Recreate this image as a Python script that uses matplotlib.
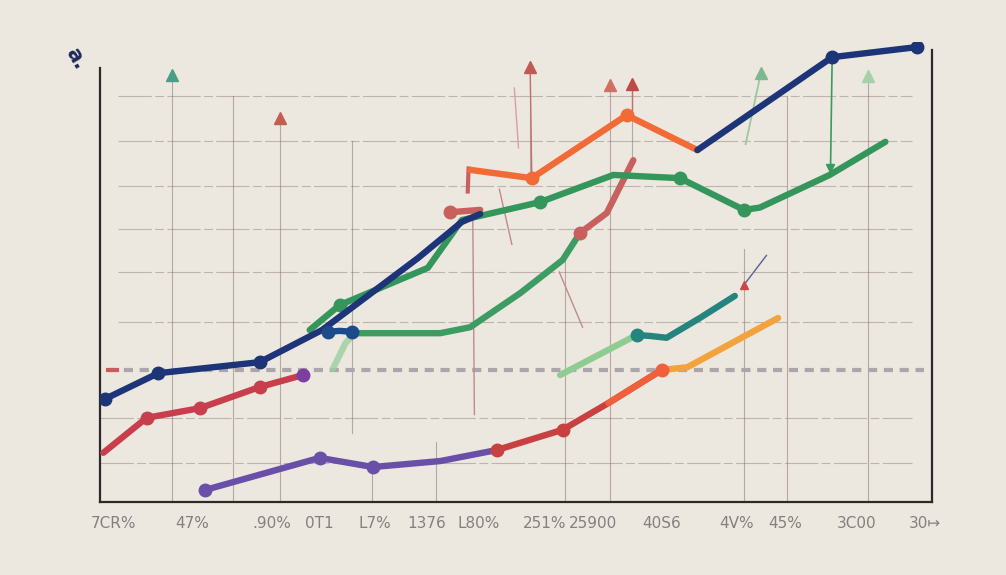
import matplotlib
matplotlib.use("Agg")
import matplotlib.pyplot as plt

BG = "#ECE8DF"

# ---------------- data (x: 0-100 across axis, y: 0-100 up the axis) ----------------
navy_a_x = [0.6, 7.0, 19.2, 26.7, 38.2, 43.5, 45.7]
navy_a_y = [22.4, 28.0, 30.4, 37.4, 53.0, 60.9, 62.6]
navy_short_x = [27.4, 28.8, 30.3]
navy_short_y = [37.0, 37.2, 37.0]
navy_b_x = [71.8, 88.0, 98.2]
navy_b_y = [76.5, 96.7, 98.9]

orange_top_x = [44.5, 51.9, 63.3, 71.8]
orange_top_y = [72.2, 70.4, 84.1, 76.5]

green_main_x = [25.2, 28.8, 39.4, 43.5, 52.9, 61.7, 69.7, 77.4, 79.3, 87.7, 94.4]
green_main_y = [37.4, 42.8, 50.9, 61.3, 65.2, 71.1, 70.4, 63.5, 64.0, 71.1, 78.3]

green2_x = [30.6, 40.9, 44.5, 50.5, 55.6, 57.7]
green2_y = [36.7, 36.7, 38.0, 45.4, 52.6, 58.5]

lightgreen_a_x = [28.0, 29.5, 30.6]
lightgreen_a_y = [29.0, 34.5, 36.7]

pink_x = [57.7, 60.9, 64.1]
pink_y = [58.5, 62.8, 74.3]
pink_short_x = [42.1, 45.7]
pink_short_y = [63.0, 63.5]

red_left_x = [0.4, 5.6, 12.0, 19.2, 24.4]
red_left_y = [10.7, 18.3, 20.4, 25.0, 27.6]

purple_x = [12.6, 26.4, 32.8, 40.9, 47.7]
purple_y = [2.6, 9.6, 7.6, 8.9, 11.3]

red_bottom_x = [47.7, 55.6, 61.1, 67.5]
red_bottom_y = [11.3, 15.7, 21.5, 28.7]

yellow_x = [67.5, 70.6, 76.6, 81.5]
yellow_y = [28.7, 29.3, 35.2, 40.0]

lightgreen_b_x = [55.3, 64.5]
lightgreen_b_y = [27.6, 36.3]
teal_x = [64.5, 66.1, 68.1, 72.1, 76.3]
teal_y = [36.3, 36.1, 35.7, 40.0, 44.8]

grid_y = [88.3, 78.5, 68.7, 59.3, 50.0, 39.1, 18.3, 8.5]
grid_y_start = [2.2, 2.2, 2.2, 2.2, 2.2, 2.2, 0.0, 0.0]
grid_y_end = [97.6, 97.6, 97.6, 97.6, 97.6, 97.6, 97.6, 97.6]

grid_x = [8.7, 16.0, 21.6, 30.3, 32.7, 40.4, 51.7, 55.9, 61.3, 63.9, 77.4, 82.6, 92.3]
grid_x_low = [0.0, 0.0, 0.0, 15.0, 0.0, 0.0, 72.0, 0.0, 0.0, 74.0, 0.0, 0.0, 0.0]
grid_x_high = [92.8, 88.3, 83.5, 78.5, 9.0, 13.0, 94.5, 54.0, 91.0, 91.0, 55.0, 88.3, 92.5]

ref_level = 28.7

arrow_x = [8.7, 21.6, 51.7, 61.3, 63.9, 79.4, 92.3]
arrow_y = [92.8, 83.5, 94.5, 90.7, 90.9, 93.3, 92.5]
arrow_c = ["#4a9e88", "#c06050", "#c05a55", "#d07060", "#c04848", "#7cb890", "#a8d0a8"]

tick_pos = [1.6, 11.1, 20.7, 26.4, 33.0, 39.3, 45.5, 53.5, 59.2, 67.5, 76.5, 82.3, 91.0, 99.2]
tick_labels = ["7CR%", "47%", ".90%", "0T1", "L7%", "1376", "L80%", "251%",
               "25900", "40S6", "4V%", "45%", "3C00", "30↦"]

# ---------------- figure ----------------
fig = plt.figure(figsize=(10.06, 5.75), dpi=100, facecolor=BG)
ax = fig.add_axes([100 / 1006, 73 / 575, 832 / 1006, 460 / 575])
ax.set_facecolor(BG)
ax.set_xlim(0, 100)
ax.set_ylim(0, 100)

# grid
for y, x0, x1 in zip(grid_y, grid_y_start, grid_y_end):
    ax.plot([x0, x1], [y, y], color="#8a7470", lw=0.8, alpha=0.45,
            ls=(0, (30, 3, 8, 3)), zorder=1)
for x, y0, y1 in zip(grid_x, grid_x_low, grid_x_high):
    ax.plot([x, x], [y0, y1], color="#8a6662", lw=0.8, alpha=0.5, zorder=1)

# reference dashed line
ax.plot([1.0, 99.0], [ref_level, ref_level], color="#aca6aa", lw=3.0,
        ls=(0, (2.2, 1.6)), zorder=2)
ax.plot([1.0, 2.0], [ref_level, ref_level], color="#c85a60", lw=3.0, zorder=2)

# decorative arrows / thin lines
ax.plot([88.0, 87.8], [96.7, 72.0], color="#3a9a5e", lw=1.2, zorder=3)
ax.plot([87.8], [72.5], marker="v", color="#3a9a5e", ms=6, zorder=3)
ax.plot([77.6, 79.4], [77.8, 93.0], color="#9cc8a0", lw=1.3, zorder=3)
ax.plot([51.7, 51.9], [94.5, 70.4], color="#c07070", lw=1.0, zorder=3)
ax.plot([63.9, 63.9], [90.9, 84.0], color="#c07070", lw=1.0, zorder=3)
ax.plot([49.8, 50.3], [90.0, 77.0], color="#d8a0a0", lw=1.0, zorder=3)
ax.plot([44.3, 44.2], [72.5, 67.5], color="#c86060", lw=3.0, zorder=3)
ax.plot([77.4, 80.1], [47.2, 53.6], color="#5a6090", lw=1.0, zorder=3)
ax.plot([77.4], [47.2], marker="^", color="#c84848", ms=6, zorder=3)
ax.plot([48.0, 49.5], [68.0, 56.0], color="#c08a8a", lw=1.0, zorder=3)
ax.plot([55.2, 58.0], [50.0, 38.0], color="#c08a8a", lw=1.0, zorder=3)
ax.plot([44.8, 45.0], [63.0, 19.0], color="#c08a8a", lw=1.0, zorder=3)
for x, y, c in zip(arrow_x, arrow_y, arrow_c):
    ax.plot([x], [y], marker="^", color=c, ms=8, zorder=4)

LW = 4.6
MS = 9

def series(xs, ys, color, marks=(), lw=LW, alpha=1.0, z=5):
    ax.plot(xs, ys, color=color, lw=lw, solid_capstyle="round",
            solid_joinstyle="round", alpha=alpha, zorder=z)
    if marks:
        ax.plot([xs[i] for i in marks], [ys[i] for i in marks], "o",
                color=color, ms=MS, alpha=alpha, zorder=z + 0.1)

series(lightgreen_a_x, lightgreen_a_y, "#9cd0a0", alpha=0.8, z=4)
series(lightgreen_b_x, lightgreen_b_y, "#8fcc92", z=5)
series(teal_x, teal_y, "#24857e", marks=(0,), z=5)
series(purple_x, purple_y, "#6a4fa8", marks=(0, 1, 2), z=5)
series(red_bottom_x, red_bottom_y, "#c8403f", marks=(0, 1), z=6)
series(red_bottom_x[2:], red_bottom_y[2:], "#f0603a", marks=(1,), z=6.2)
series(yellow_x, yellow_y, "#f3a23c", z=6)
series(red_left_x, red_left_y, "#c93e4c", marks=(1, 2, 3), z=5)
ax.plot([red_left_x[-1]], [red_left_y[-1]], "o", color="#7a3fa0", ms=MS, zorder=6)
series(green2_x, green2_y, "#3d9c62", z=5)
series(pink_x, pink_y, "#c8605e", marks=(0,), z=6)
series(pink_short_x, pink_short_y, "#c8605e", marks=(0,), z=6)
series(green_main_x, green_main_y, "#35965c", marks=(1, 4, 6, 7), z=6)
series(navy_a_x, navy_a_y, "#1d3578", marks=(0, 1, 2), z=7)
series(navy_short_x, navy_short_y, "#1d4a8a", marks=(0, 2), z=7)
series(orange_top_x, orange_top_y, "#f26a35", marks=(1, 2), z=7)
series(navy_b_x, navy_b_y, "#1d3578", marks=(1, 2), z=7)

# spines
ax.spines["top"].set_visible(False)
ax.spines["left"].set_bounds(0, 94.3)
ax.spines["right"].set_bounds(0, 98.3)
for s in ["left", "right", "bottom"]:
    ax.spines[s].set_color("#2a2a2a")
    ax.spines[s].set_linewidth(1.6)

ax.set_yticks([])
ax.set_xticks(tick_pos)
ax.set_xticklabels(tick_labels, fontsize=11, color="#858080", family="DejaVu Sans")
ax.tick_params(axis="x", length=0, pad=10)

fig.text(76 / 1006, 1 - 58 / 575, "a.", rotation=-60, fontsize=15,
         color="#1e2a5a", fontweight="bold", ha="center", va="center")

fig.savefig("out.png", dpi=100, facecolor=BG)
